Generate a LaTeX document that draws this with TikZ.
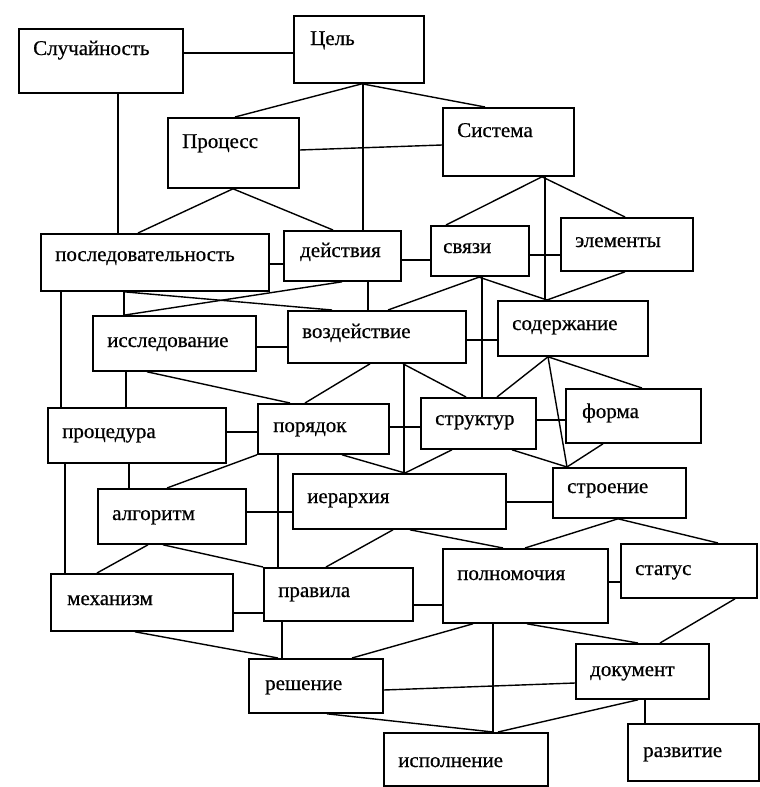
\documentclass[tikz,border=0pt]{standalone}
\usepackage{fontspec}
\setmainfont{Liberation Serif}[FakeBold=0.6]
\newcommand\boxfont{\fontsize{21}{25}\selectfont}
\tikzset{
  lbl/.style={anchor=base west, inner sep=0pt, font=\boxfont},
  bx/.style n args={5}{draw, line width=1.8pt, anchor=north west, inner sep=0pt,
    minimum width=#1pt, minimum height=#2pt,
    label={[lbl, xshift=#3pt, yshift=-#4pt]north west:#5}},
  ln/.style={line width=1.4pt}
}
\begin{document}
\begin{tikzpicture}[x=1pt,y=-1pt]
\fill[white] (0,0) rectangle (760,787);
\useasboundingbox (0,0) rectangle (760,787);
% boxes
\node[bx={164}{64}{15}{27}{Случайность}] (sl) at (18,28) {};
\node[bx={130}{67}{17}{30}{Цель}] (cel) at (293,15) {};
\node[bx={131}{70}{15}{31}{Процесс}] (pro) at (167,117) {};
\node[bx={131}{68}{15}{30}{Система}] (sys) at (442,107) {};
\node[bx={228}{57}{15}{28}{последовательность}] (pos) at (40,233) {};
\node[bx={117}{50}{17}{27}{действия}] (dey) at (283,230) {};
\node[bx={98}{50}{13}{28}{связи}] (svz) at (430,225) {};
\node[bx={132}{53}{15}{30}{элементы}] (elm) at (560,217) {};
\node[bx={163}{55}{15}{32}{исследование}] (iss) at (92,315) {};
\node[bx={178}{52}{15}{28}{воздействие}] (voz) at (287,310) {};
\node[bx={150}{55}{15}{30}{содержание}] (sod) at (497,300) {};
\node[bx={178}{55}{15}{31}{процедура}] (prc) at (47,407) {};
\node[bx={131}{50}{16}{29}{порядок}] (por) at (257,403) {};
\node[bx={115}{51}{15}{28}{структур}] (str) at (420,397) {};
\node[bx={135}{54}{17}{30}{форма}] (frm) at (565,388) {};
\node[bx={148}{55}{15}{32}{алгоритм}] (alg) at (97,488) {};
\node[bx={213}{55}{15}{30}{иерархия}] (ier) at (292,473) {};
\node[bx={133}{50}{15}{26}{строение}] (stro) at (552,467) {};
\node[bx={182}{57}{17}{32}{механизм}] (mex) at (50,573) {};
\node[bx={149}{53}{15}{30}{правила}] (prv) at (263,567) {};
\node[bx={165}{74}{15}{32}{полномочия}] (pol) at (442,548) {};
\node[bx={136}{54}{15}{32}{статус}] (stat) at (620,543) {};
\node[bx={134}{54}{17}{32}{решение}] (res) at (248,658) {};
\node[bx={133}{55}{15}{33}{документ}] (doc) at (575,643) {};
\node[bx={164}{53}{15}{35}{исполнение}] (isp) at (383,732) {};
\node[bx={131}{57}{16}{34}{развитие}] (raz) at (627,723) {};
% connectors
\begin{scope}[ln]
\draw ([yshift=-25pt]sl.north east) -- ([yshift=-38pt]cel.north west);
\draw ([xshift=100pt]sl.south west) -- ([xshift=78pt]pos.north west);
\draw ([xshift=69pt]cel.south west) -- ([xshift=68pt]pro.north west);
\draw ([xshift=69pt]cel.south west) -- ([xshift=43pt]sys.north west);
\draw ([xshift=70pt]cel.south west) -- ([xshift=80pt]dey.north west);
\draw ([yshift=-33pt]pro.north east) -- ([yshift=-38pt]sys.north west);
\draw ([xshift=66pt]pro.south west) -- ([xshift=98pt]pos.north west);
\draw ([xshift=66pt]pro.south west) -- ([xshift=50pt]dey.north west);
\draw ([xshift=100pt]sys.south west) -- ([xshift=16pt]svz.north west);
\draw ([xshift=103pt]sys.south west) -- ([xshift=48pt]sod.north west);
\draw ([xshift=100pt]sys.south west) -- ([xshift=65pt]elm.north west);
\draw ([yshift=-31pt]pos.north east) -- ([yshift=-34pt]dey.north west);
\draw ([yshift=-30pt]dey.north east) -- ([yshift=-35pt]svz.north west);
\draw ([yshift=-30pt]svz.north east) -- ([yshift=-38pt]elm.north west);
\draw ([xshift=48pt]svz.south west) -- ([xshift=50pt]sod.north west);
\draw ([xshift=65pt]elm.south west) -- ([xshift=50pt]sod.north west);
\draw ([xshift=50pt]svz.south west) -- ([xshift=101pt]voz.north west);
\draw ([xshift=52pt]svz.south west) -- ([xshift=62pt]str.north west);
\draw ([xshift=85pt]dey.south west) -- ([xshift=81pt]voz.north west);
\draw ([xshift=84pt]pos.south west) -- ([xshift=45pt]voz.north west);
\draw ([xshift=33pt]iss.north west) -- ([xshift=59pt]dey.south west);
\draw ([xshift=84pt]pos.south west) -- ([xshift=32pt]iss.north west);
\draw ([xshift=21pt]pos.south west) -- ([xshift=14pt]prc.north west);
\draw ([xshift=18pt]prc.south west) -- ([xshift=15pt]mex.north west);
\draw ([yshift=-32pt]iss.north east) -- ([yshift=-37pt]voz.north west);
\draw ([yshift=-30pt]voz.north east) -- ([yshift=-40pt]sod.north west);
\draw ([xshift=55pt]iss.south west) -- ([xshift=33pt]por.north west);
\draw ([xshift=34pt]iss.south west) -- ([xshift=79pt]prc.north west);
\draw ([xshift=83pt]voz.south west) -- ([xshift=48pt]por.north west);
\draw ([xshift=117pt]voz.south west) -- ([xshift=112pt]ier.north west);
\draw ([xshift=116pt]voz.south west) -- ([xshift=46pt]str.north west);
\draw ([xshift=51pt]sod.south west) -- ([xshift=77pt]str.north west);
\draw ([xshift=51pt]sod.south west) -- ([xshift=77pt]frm.north west);
\draw ([xshift=51pt]sod.south west) -- ([xshift=15pt]stro.north west);
\draw ([yshift=-23pt]str.north east) -- ([yshift=-32pt]frm.north west);
\draw ([yshift=-24pt]por.north east) -- ([yshift=-30pt]str.north west);
\draw ([yshift=-25pt]prc.north east) -- ([yshift=-29pt]por.north west);
\draw ([xshift=92pt]str.south west) -- ([xshift=15pt]stro.north west);
\draw ([xshift=38pt]frm.south west) -- ([xshift=15pt]stro.north west);
\draw ([xshift=32pt]str.south west) -- ([xshift=113pt]ier.north west);
\draw ([xshift=85pt]por.south west) -- ([xshift=113pt]ier.north west);
\draw (por.south west) -- ([xshift=70pt]alg.north west);
\draw ([xshift=21pt]por.south west) -- ([xshift=15pt]prv.north west);
\draw ([xshift=82pt]prc.south west) -- ([xshift=32pt]alg.north west);
\draw ([yshift=-24pt]alg.north east) -- ([yshift=-39pt]ier.north west);
\draw ([xshift=51pt]alg.south west) -- ([xshift=47pt]mex.north west);
\draw ([xshift=66pt]alg.south west) -- (prv.north west);
\draw ([xshift=101pt]ier.south west) -- ([xshift=63pt]prv.north west);
\draw ([xshift=118pt]ier.south west) -- ([xshift=61pt]pol.north west);
\draw ([yshift=-29pt]ier.north east) -- ([yshift=-35pt]stro.north west);
\draw ([xshift=66pt]stro.south west) -- ([xshift=83pt]pol.north west);
\draw ([xshift=66pt]stro.south west) -- ([xshift=98pt]stat.north west);
\draw ([yshift=-40pt]mex.north east) -- ([yshift=-46pt]prv.north west);
\draw ([yshift=-38pt]prv.north east) -- ([yshift=-57pt]pol.north west);
\draw ([yshift=-34pt]pol.north east) -- ([yshift=-39pt]stat.north west);
\draw ([xshift=85pt]mex.south west) -- ([xshift=30pt]res.north west);
\draw ([xshift=19pt]prv.south west) -- ([xshift=34pt]res.north west);
\draw ([xshift=31pt]pol.south west) -- ([xshift=104pt]res.north west);
\draw ([xshift=51pt]pol.south west) -- ([xshift=110pt]isp.north west);
\draw ([xshift=85pt]pol.south west) -- ([xshift=63pt]doc.north west);
\draw ([xshift=115pt]stat.south west) -- ([xshift=85pt]doc.north west);
\draw ([yshift=-32pt]res.north east) -- ([yshift=-40pt]doc.north west);
\draw ([xshift=79pt]res.south west) -- ([xshift=110pt]isp.north west);
\draw ([xshift=63pt]doc.south west) -- ([xshift=115pt]isp.north west);
\draw ([xshift=70pt]doc.south west) -- ([xshift=18pt]raz.north west);
\end{scope}
\end{tikzpicture}
\end{document}
